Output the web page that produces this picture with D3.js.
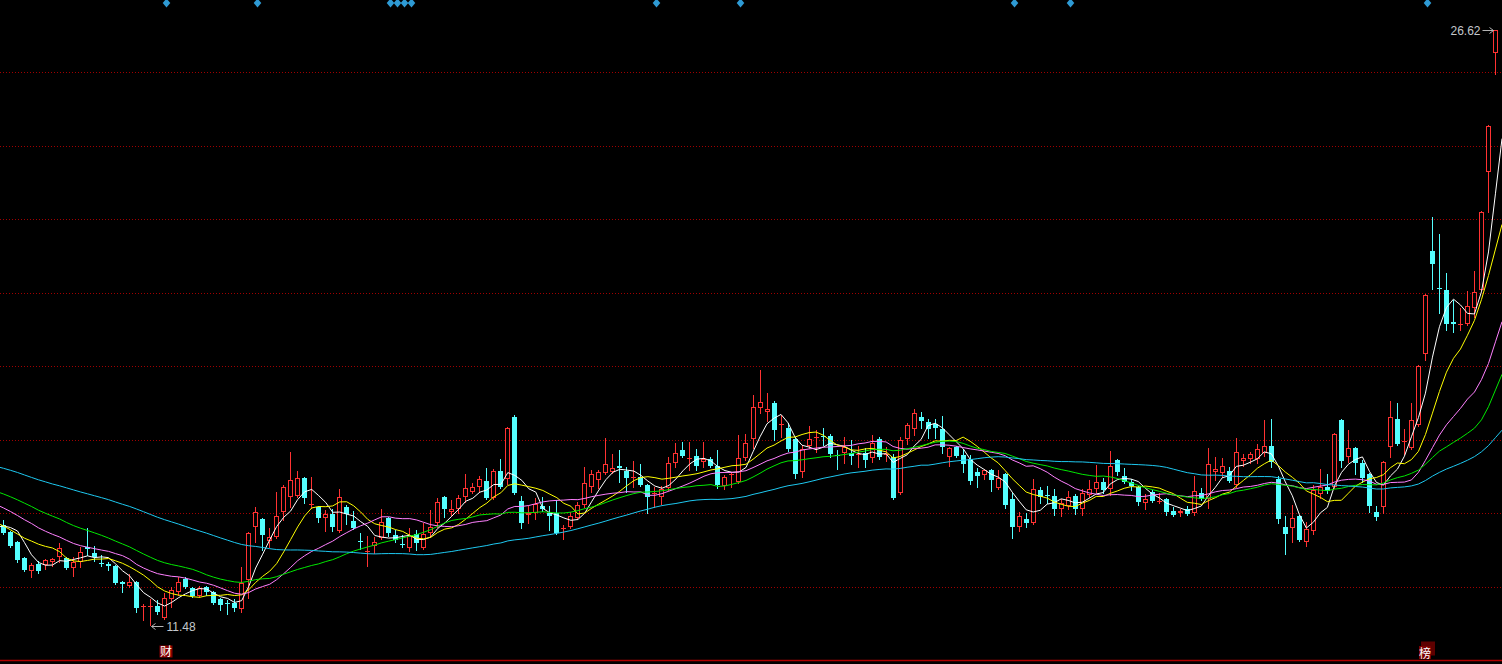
<!DOCTYPE html>
<html><head><meta charset="utf-8">
<script src="https://cdn.jsdelivr.net/npm/d3@7"></script>
<style>html,body{margin:0;padding:0;background:#000;overflow:hidden}</style>
</head><body><svg id="c" width="1502" height="664"></svg>
<script>
// ---- data (prices) ----
const opens = [14.02,13.85,13.59,13.18,12.85,13.03,13.01,13.08,13.21,13.18,12.93,13.08,13.47,13.31,13.06,13.03,12.98,12.57,12.47,12.57,
11.94,11.94,11.96,11.66,12.14,12.32,12.65,12.42,12.22,12.45,12.32,12.14,12.04,12.04,11.89,12.63,13.97,14.18,13.62,13.72,
14.36,14.74,14.76,15.22,14.53,14.48,14.20,14.30,13.87,14.48,14.13,13.62,13.34,13.49,13.69,14.20,13.77,13.54,13.44,13.80,
13.44,13.82,14.08,14.74,14.36,14.43,14.74,14.87,14.99,15.14,14.71,15.40,15.20,16.77,14.63,14.28,14.33,14.51,14.33,14.33,
13.92,13.97,14.20,14.53,14.99,15.17,15.35,15.37,15.53,15.40,15.22,15.24,15.04,14.81,14.74,14.97,15.60,15.93,15.70,15.78,
15.63,15.70,15.53,15.02,15.30,15.12,15.73,16.21,17.00,16.90,17.13,16.57,16.49,16.21,15.37,16.03,16.24,16.29,16.29,15.80,
15.86,15.86,15.80,15.86,15.73,16.21,15.80,15.75,14.84,16.21,16.47,16.77,16.64,16.59,16.47,15.75,16.01,15.80,15.70,15.37,
15.30,15.42,14.97,15.32,14.69,13.97,14.18,14.08,14.92,14.79,14.76,14.43,14.51,14.76,14.43,14.79,14.94,15.12,14.94,15.68,
15.27,15.12,14.99,14.58,14.87,14.61,14.69,14.38,14.33,14.43,14.33,14.84,14.69,15.37,15.35,15.40,15.04,15.65,15.70,15.70,
15.86,16.03,15.20,13.97,13.95,14.26,13.59,13.87,14.81,14.99,14.99,16.70,15.75,15.98,15.60,15.32,14.36,14.48,16.01,16.72,
16.14,15.98,16.57,18.37,21.00,20.06,20.00,19.19,19.11,19.14,19.55,20.00,23.01,26.03];
const highs = [14.15,13.87,13.62,13.21,13.06,13.11,13.16,13.18,13.57,13.21,13.21,13.47,13.95,13.49,13.26,13.08,13.01,12.60,12.78,12.60,
12.01,12.14,12.12,12.30,12.45,12.70,12.70,12.45,12.47,12.47,12.35,12.17,12.12,12.14,12.96,13.85,14.48,14.20,13.95,14.87,
15.04,15.88,15.40,15.24,15.24,14.51,14.41,14.43,14.94,14.53,14.38,13.82,13.74,13.72,14.43,14.23,13.90,13.77,13.95,13.90,
14.08,14.41,14.71,14.76,14.66,14.79,15.32,15.09,15.27,15.47,15.45,15.70,16.52,16.82,14.76,14.51,14.71,14.74,14.51,14.66,
14.02,14.36,14.61,15.50,15.42,15.42,16.24,15.83,15.93,15.50,15.65,15.58,15.07,14.99,15.02,15.75,16.11,16.14,16.14,15.96,
16.14,15.75,15.93,15.30,15.37,16.31,16.34,17.33,17.97,17.38,17.18,16.82,16.62,16.26,16.06,16.54,16.44,16.49,16.34,15.93,
16.26,16.19,16.03,15.98,16.31,16.26,16.01,15.83,16.26,16.62,16.98,16.90,16.72,16.72,16.80,16.01,16.03,15.96,15.80,15.47,
15.45,15.45,15.42,15.35,14.84,14.36,14.33,15.20,14.99,15.02,14.94,14.69,14.89,14.81,14.94,15.17,15.55,15.22,15.91,15.70,
15.47,15.20,15.02,14.81,14.92,14.84,14.71,14.48,14.43,14.51,15.27,14.97,15.98,15.75,15.73,15.50,16.24,15.83,15.88,16.09,
16.70,16.72,15.27,14.26,14.53,14.28,14.10,15.04,15.45,15.32,16.37,16.72,16.44,16.01,15.68,15.35,14.51,15.65,17.18,17.13,
16.47,17.13,18.10,19.90,21.86,21.43,20.44,19.75,19.55,19.98,20.49,22.01,24.20,26.62];
const lows = [13.80,13.47,13.08,12.85,12.70,12.80,12.90,12.98,13.08,12.90,12.73,12.96,13.26,13.11,12.98,12.88,12.52,12.32,12.45,11.81,
11.61,11.48,11.76,11.63,11.94,12.24,12.42,12.19,12.19,12.24,12.01,11.86,11.76,11.84,11.81,12.17,13.59,13.39,13.47,13.69,
14.15,14.48,14.74,14.58,14.46,14.10,13.87,13.87,13.85,14.05,13.92,13.41,12.98,13.31,13.67,13.74,13.59,13.47,13.36,13.39,
13.41,13.72,13.97,14.23,14.28,14.33,14.61,14.84,14.87,14.69,14.69,14.97,15.07,14.81,13.95,14.08,14.18,14.38,13.90,13.80,
13.67,13.95,14.18,14.48,14.87,14.97,15.32,15.35,15.12,14.87,14.99,15.02,14.33,14.48,14.56,14.92,15.50,15.75,15.42,15.42,
15.50,15.50,14.97,14.94,14.99,15.09,15.68,15.98,16.87,16.67,16.19,16.26,15.91,15.22,15.24,15.98,15.88,16.06,15.75,15.45,
15.60,15.58,15.50,15.50,15.63,15.70,15.65,14.69,14.81,16.09,16.31,16.49,16.24,16.24,15.86,15.53,15.75,15.37,15.07,14.99,
15.20,14.89,14.94,14.46,13.69,13.87,13.97,14.05,14.58,14.58,14.28,14.26,14.43,14.30,14.28,14.74,14.87,14.84,14.79,15.30,
15.09,14.92,14.53,14.43,14.61,14.58,14.28,14.26,14.26,14.28,14.28,14.66,14.46,15.17,15.24,15.12,14.99,15.53,15.60,15.60,
15.78,15.50,14.08,13.29,13.59,13.62,13.49,13.80,14.71,14.84,14.97,15.50,15.63,15.32,15.12,14.36,14.15,14.33,15.75,16.06,
15.83,15.96,16.54,18.22,20.03,19.42,18.99,18.94,18.99,19.11,19.32,19.98,21.99,25.51];
const closes = [13.82,13.49,13.13,12.88,13.01,12.85,13.13,13.16,13.44,12.93,13.08,13.34,13.41,13.21,13.03,12.98,12.55,12.52,12.57,11.91,
11.96,11.96,11.81,12.17,12.37,12.57,12.45,12.22,12.42,12.32,12.04,11.99,12.01,11.91,12.55,13.82,14.36,13.77,13.72,14.26,
14.99,15.17,15.22,14.71,14.56,14.20,14.30,13.97,14.74,14.30,13.95,13.59,13.36,13.59,14.10,13.82,13.64,13.52,13.74,13.57,
13.80,13.97,14.61,14.43,14.43,14.71,14.97,14.99,15.20,14.71,15.40,14.99,16.49,14.84,14.08,14.33,14.56,14.43,14.26,13.82,
13.95,14.26,14.53,15.09,15.32,15.37,15.58,15.47,15.47,15.22,15.24,15.04,14.74,14.84,14.94,15.60,15.86,15.78,15.73,15.53,
15.70,15.53,15.04,15.24,15.32,15.73,16.11,17.03,17.15,16.98,16.44,16.59,15.96,15.32,15.96,16.21,16.26,16.26,15.83,15.78,
16.01,15.78,15.83,15.68,16.11,15.75,15.83,14.71,16.19,16.57,16.87,16.67,16.47,16.49,16.01,15.98,15.78,15.58,15.14,15.27,
15.42,15.17,15.22,14.53,13.97,14.26,14.08,14.94,14.74,14.76,14.43,14.58,14.74,14.43,14.84,14.94,15.12,14.92,15.53,15.37,
15.12,15.02,14.61,14.69,14.63,14.63,14.36,14.28,14.38,14.30,14.89,14.69,15.58,15.45,15.53,15.14,15.88,15.73,15.83,15.96,
16.03,15.63,14.18,13.80,14.20,13.64,13.92,14.92,14.99,14.89,16.34,15.65,15.98,15.60,15.22,14.51,14.23,15.63,16.77,16.09,
16.16,16.70,18.07,19.88,20.67,20.03,19.14,19.14,19.14,19.60,19.95,21.99,24.18,26.62];
// closes before the visible window, estimated from where the moving averages enter at the left edge
const priorCloses = [16.57,16.57,16.44,16.70,16.75,16.49,16.31,16.39,16.19,16.06,16.24,16.44,16.29,16.14,15.93,16.03,16.19,15.98,15.80,15.88,
16.09,16.19,16.03,15.88,15.73,15.93,16.06,15.88,15.68,15.63,15.73,
15.63,15.47,15.42,15.55,15.68,15.47,15.37,15.53,15.63,15.50,
15.30,15.17,15.02,14.92,15.07,14.87,14.71,14.79,14.66,14.66,
14.46,14.20,13.95,13.74,13.64,13.69,13.57,14.36,14.56];
const maPeriods = [5, 10, 20, 30, 60];
const eventIdx = [23, 36, 55, 56, 57, 58, 93, 105, 144, 152, 203];
const tagIdx = [23, 203];
const tagText = ["财", "榜"];

// ---- styles ----
const W = 1502, H = 664;
const RED = "#ff3232", CYAN = "#54ffff";
const maColors = ["#ffffff", "#ffff00", "#ff80ff", "#00e800", "#1ec8f0"];

const svg = d3.select("#c");
svg.append("rect").attr("width", W).attr("height", H).attr("fill", "#000");

const n = closes.length;
const x = d3.scaleBand().domain(d3.range(n)).range([0, 1499]);
const step = x.step();
const cx = i => (i >= 0 && i < n && Number.isInteger(i) ? x(i) : i * step) + step / 2;
const y = d3.scaleLinear().domain([d3.min(lows), d3.max(highs)]).range([625, 30]);

// grid: plot area split in 9 equal rows
const plotTop = -1, plotBottom = 660;
const gridY = d3.scaleLinear().domain([0, 9]).range([plotTop, plotBottom]);
svg.append("g").selectAll("line").data(d3.range(1, 9)).join("line")
  .attr("x1", 0).attr("x2", W)
  .attr("y1", d => Math.round(gridY(d)) + 0.5).attr("y2", d => Math.round(gridY(d)) + 0.5)
  .attr("stroke", "#a00000").attr("stroke-width", 1).attr("stroke-dasharray", "1,2")
  .attr("shape-rendering", "crispEdges");
svg.append("line").attr("x1", 0).attr("x2", W)
  .attr("y1", Math.round(gridY(9)) + 0.5).attr("y2", Math.round(gridY(9)) + 0.5)
  .attr("stroke", "#b00000").attr("stroke-width", 1.5);

// candles
const cg = svg.append("g").attr("shape-rendering", "crispEdges");
for (let i = 0; i < n; i++) {
  const o = opens[i], c = closes[i], h = highs[i], l = lows[i];
  const up = c >= o;
  const col = up ? RED : CYAN;
  const xc = Math.floor(cx(i)) + 0.5;
  const yT = Math.round(y(Math.max(o, c))), yB = Math.round(y(Math.min(o, c)));
  cg.append("line").attr("x1", xc).attr("x2", xc)
    .attr("y1", Math.round(y(h))).attr("y2", Math.round(y(l)) + 1)
    .attr("stroke", col);
  if (yB - yT < 2) {
    cg.append("line").attr("x1", xc - 2.5).attr("x2", xc + 2.5)
      .attr("y1", yT + 0.5).attr("y2", yT + 0.5).attr("stroke", col);
  } else if (up) {
    cg.append("rect").attr("x", xc - 2).attr("y", yT + 0.5)
      .attr("width", 4).attr("height", yB - yT - 1)
      .attr("fill", "#000").attr("stroke", col);
  } else {
    cg.append("rect").attr("x", xc - 2.5).attr("y", yT)
      .attr("width", 5).attr("height", yB - yT).attr("fill", col);
  }
}

// moving averages (the last segment of each line runs on to the right edge of the plot)
const all = priorCloses.concat(closes);
const off = priorCloses.length;
function ma(p, i) {
  const j = i + off;
  if (j - p + 1 < 0) return null;
  return d3.mean(all.slice(j - p + 1, j + 1));
}
maPeriods.forEach((p, k) => {
  const pts = d3.range(-1, n).map(i => ({ px: cx(i), py: ma(p, i) == null ? null : y(ma(p, i)) }));
  const a = pts[pts.length - 2], b = pts[pts.length - 1];
  const slope = (b.py - a.py) / (b.px - a.px);
  pts.push({ px: W, py: b.py + slope * (W - b.px) });
  svg.append("path").datum(pts)
    .attr("d", d3.line().defined(d => d.py != null).x(d => d.px).y(d => d.py))
    .attr("fill", "none").attr("stroke", maColors[k]).attr("stroke-width", 1);
});

// event markers on the top edge
svg.append("g").selectAll("path").data(eventIdx).join("path")
  .attr("d", d => {
    const xc = Math.floor(cx(d)) + 2.5;
    return `M${xc},-1.5L${xc + 3.8},3L${xc},7.5L${xc - 3.8},3Z`;
  })
  .attr("fill", "#2e9ad4");

// min / max labels
const minI = d3.minIndex(lows), maxI = d3.maxIndex(highs);
const lab = svg.append("g").attr("font-family", "'Liberation Sans', Arial, sans-serif").attr("font-size", 12);
{
  const xm = Math.floor(cx(minI)) + 1.5, ym = Math.round(y(lows[minI])) + 1.5;
  lab.append("line").attr("x1", xm).attr("x2", xm + 12).attr("y1", ym).attr("y2", ym).attr("stroke", "#b4b4b4");
  lab.append("path").attr("d", `M${xm},${ym}L${xm + 4},${ym - 3}M${xm},${ym}L${xm + 4},${ym + 3}`)
    .attr("stroke", "#b4b4b4").attr("fill", "none");
  lab.append("text").attr("x", xm + 15).attr("y", ym + 4.5).attr("fill", "#c4c8cc")
    .text(d3.format(".2f")(lows[minI]));
}
{
  const xM = Math.floor(cx(maxI)) - 1.5, yM = Math.round(y(highs[maxI])) + 0.5;
  lab.append("line").attr("x1", xM - 11).attr("x2", xM).attr("y1", yM).attr("y2", yM).attr("stroke", "#b4b4b4");
  lab.append("path").attr("d", `M${xM},${yM}L${xM - 4},${yM - 3}M${xM},${yM}L${xM - 4},${yM + 3}`)
    .attr("stroke", "#b4b4b4").attr("fill", "none");
  lab.append("text").attr("x", xM - 13).attr("y", yM + 4.5).attr("text-anchor", "end").attr("fill", "#c4c8cc")
    .text(d3.format(".2f")(highs[maxI]));
}

// bottom tags
tagIdx.forEach((t, k) => {
  const xc = Math.floor(cx(t)) + 2;
  const g = svg.append("g");
  if (k === 1) {
    g.append("rect").attr("x", xc - 6).attr("y", 641.5).attr("width", 14).attr("height", 14).attr("fill", "#5e0000");
    g.append("rect").attr("x", xc - 8).attr("y", 646).attr("width", 12).attr("height", 13).attr("fill", "#7a0000");
    g.append("text").attr("x", xc - 2).attr("y", 657.5).attr("text-anchor", "middle")
      .attr("font-family", "'Noto Sans CJK SC', sans-serif").attr("font-size", 12).attr("fill", "#fff").text(tagText[k]);
  } else {
    g.append("rect").attr("x", xc - 6.5).attr("y", 645.5).attr("width", 13).attr("height", 12).attr("fill", "#8a0000");
    g.append("text").attr("x", xc).attr("y", 656).attr("text-anchor", "middle")
      .attr("font-family", "'Noto Sans CJK SC', sans-serif").attr("font-size", 12).attr("fill", "#fff").text(tagText[k]);
  }
});
</script>
</body></html>
